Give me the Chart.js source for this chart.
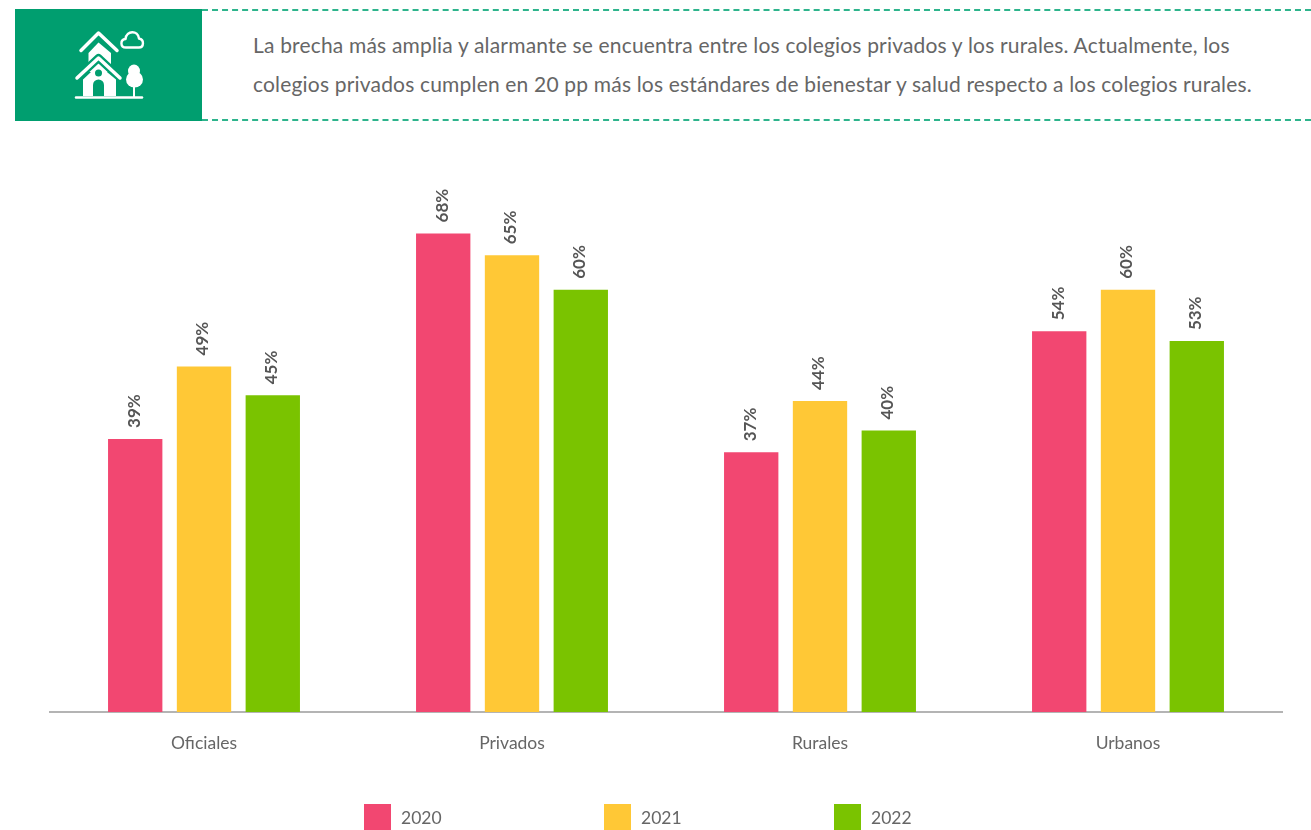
<!DOCTYPE html>
<html lang="es">
<head>
<meta charset="utf-8">
<title>Brecha colegios</title>
<script src="https://cdn.jsdelivr.net/npm/chart.js@4"></script>
<style>
  html, body { margin: 0; padding: 0; background: #fff; width: 1311px; height: 830px; overflow: hidden; }
  body { position: relative; font-family: "Lato", sans-serif; }
  #chart { position: absolute; left: 0; top: 0; }
  #banner { position: absolute; left: 15px; top: 9px; width: 187px; height: 112px; background: #009E6F; }
  #rule { position: absolute; left: 202px; top: 9px; width: 1109px; height: 108px;
          border-top: 2px dashed #2DB48C; border-bottom: 2px dashed #2DB48C; }
  .line { position: absolute; left: 253px; white-space: nowrap; font-size: 21px; line-height: 28px;
          color: #666; letter-spacing: 0.18px; }
  #legend { position: absolute; left: 0; top: 804px; width: 100%; height: 26px; }
  .item { position: absolute; top: 0; height: 26px; display: flex; align-items: center; font-size: 17.5px; color: #666; }
  .swatch { width: 27px; height: 26px; margin-right: 10px; }
</style>
</head>
<body>
<div id="banner"></div>
<div id="rule"></div>
<svg style="position:absolute;left:0;top:0" width="210" height="125" viewBox="0 0 210 125">
  <path d="M88.5 53 L98.5 42.5 L111 53 L111 72 L88.5 72 Z" fill="#fff"/>
  <path d="M81 50.5 L98.5 33 L117 50.5" fill="none" stroke="#fff" stroke-width="3.5" stroke-linecap="round" stroke-linejoin="round"/>
  <path d="M77 78 L98.5 58 L120 78" fill="none" stroke="#009E6F" stroke-width="8" stroke-linecap="round" stroke-linejoin="round"/>
  <path d="M77 78 L98.5 58 L120 78" fill="none" stroke="#fff" stroke-width="3.5" stroke-linecap="round" stroke-linejoin="round"/>
  <path d="M83 79.5 L98.5 65 L116 79.5 L116 96 L83 96 Z" fill="#fff"/>
  <circle cx="98.5" cy="73" r="3.5" fill="#009E6F"/>
  <path d="M93 96 L93 85 A5.5 5.5 0 0 1 104 85 L104 96 Z" fill="#009E6F"/>
  <path d="M76 97.5 L142 97.5" stroke="#fff" stroke-width="2.5" stroke-linecap="round"/>
  <path d="M134 80 L134 97" stroke="#fff" stroke-width="2"/>
  <ellipse cx="134" cy="71" rx="6" ry="6.5" fill="#fff"/>
  <ellipse cx="134.5" cy="79.5" rx="8.5" ry="8" fill="#fff"/>
  <path d="M126 47.5 C120 47.5 120 39.5 125.5 39 C126.5 30 138 30 139 38.5 C144.5 39.5 144 47.5 139 47.5 Z" fill="none" stroke="#fff" stroke-width="2.4" stroke-linejoin="round"/>
</svg>
<div class="line" style="top:31px">La brecha más amplia y alarmante se encuentra entre los colegios privados y los rurales. Actualmente, los</div>
<div class="line" style="top:70px">colegios privados cumplen en 20 pp más los estándares de bienestar y salud respecto a los colegios rurales.</div>
<canvas id="chart" width="1311" height="830"></canvas>
<div id="legend"></div>
<script>
const categories = ["Oficiales", "Privados", "Rurales", "Urbanos"];
const seriesNames = ["2020", "2021", "2022"];
const values2020 = [38.8, 68, 36.9, 54.1];
const values2021 = [49.1, 64.9, 44.2, 60];
const values2022 = [45, 60, 40, 52.7];
const seriesColors = ["#F24771", "#FFC836", "#7AC300"];
const legendLefts = [364, 604, 834];

const rotatedLabels = {
  id: "rotatedLabels",
  afterDatasetsDraw(chart) {
    const ctx = chart.ctx;
    ctx.save();
    ctx.font = "bold 17px 'Lato', sans-serif";
    ctx.fillStyle = "#555";
    ctx.textAlign = "left";
    ctx.textBaseline = "middle";
    chart.data.datasets.forEach((ds, i) => {
      chart.getDatasetMeta(i).data.forEach((bar, j) => {
        ctx.save();
        ctx.translate(bar.x - 1, bar.y - 11);
        ctx.rotate(-Math.PI / 2);
        ctx.fillText(Math.round(ds.data[j]) + "%", 0, 0);
        ctx.restore();
      });
    });
    ctx.restore();
  }
};

const chart = new Chart(document.getElementById("chart"), {
  type: "bar",
  data: {
    labels: categories,
    datasets: [values2020, values2021, values2022].map((vals, i) => ({
      label: seriesNames[i],
      data: vals,
      backgroundColor: seriesColors[i],
      categoryPercentage: 0.67,
      barPercentage: 0.79
    }))
  },
  options: {
    responsive: false,
    animation: false,
    devicePixelRatio: 1,
    layout: { padding: { left: 50, right: 29, top: 149, bottom: 78 } },
    plugins: { legend: { display: false }, tooltip: { enabled: false } },
    scales: {
      x: {
        afterFit: s => { s.height = 40; },
        grid: { display: false, drawTicks: false },
        border: { display: true, color: "#B4B4B4", width: 2 },
        ticks: { color: "#666", font: { family: "Lato", size: 17.5 }, padding: 21 }
      },
      y: { display: false, min: 0, max: 80 }
    }
  },
  plugins: [rotatedLabels]
});

const legend = document.getElementById("legend");
chart.data.datasets.forEach((ds, i) => {
  const item = document.createElement("div");
  item.className = "item";
  item.style.left = legendLefts[i] + "px";
  const sw = document.createElement("span");
  sw.className = "swatch";
  sw.style.background = ds.backgroundColor;
  const tx = document.createElement("span");
  tx.textContent = ds.label;
  item.append(sw, tx);
  legend.append(item);
});
</script>
</body>
</html>
